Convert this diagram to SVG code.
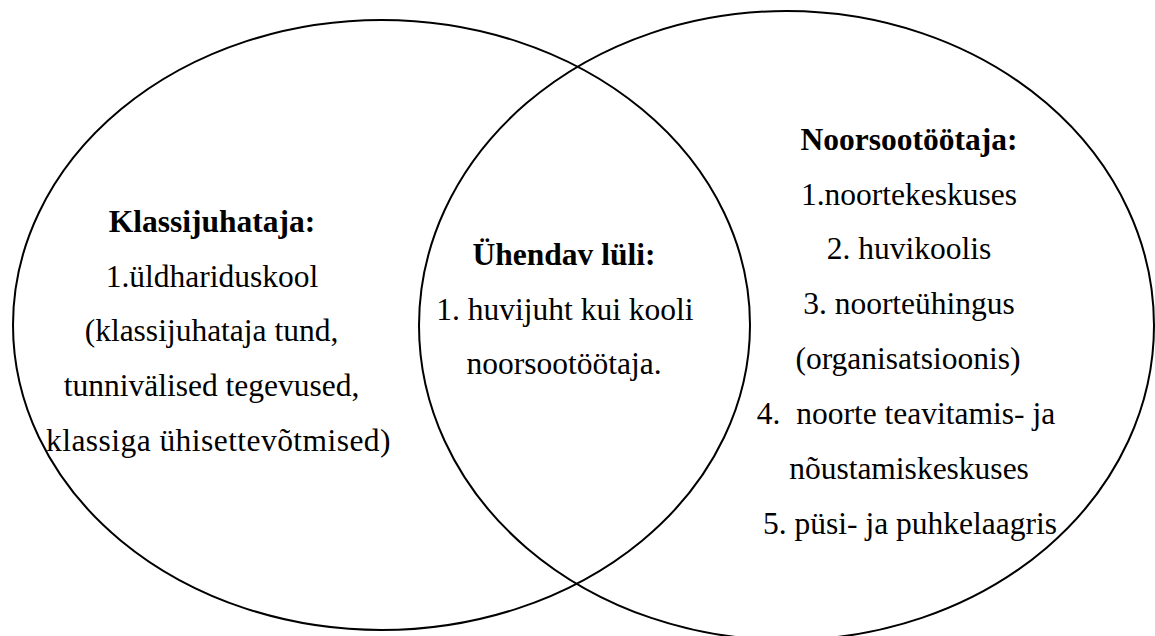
<svg xmlns="http://www.w3.org/2000/svg" width="1155" height="636" viewBox="0 0 1155 636">
<style>
.ell{fill:none;stroke:#000;stroke-width:2}
text{font-family:"Liberation Serif","Times New Roman",serif;font-size:31.5px;fill:#000;text-anchor:middle}
.b{font-weight:bold}
</style>
<rect width="1155" height="636" fill="#fff"/>
<g id="connectors"></g>
<g id="left">
<ellipse class="ell" cx="381.5" cy="325" rx="368.5" ry="305"/>
<text class="b" x="212" y="232">Klassijuhataja:</text>
<text x="212" y="286.5">1.üldhariduskool</text>
<text x="211.5" y="341">(klassijuhataja tund,</text>
<text x="211.5" y="395.5">tunnivälised tegevused,</text>
<text x="218.5" y="451" style="letter-spacing:0.45px">klassiga ühisettevõtmised)</text>
</g>
<g id="right">
<ellipse class="ell" cx="786.5" cy="325.5" rx="367.5" ry="314.5"/>
<text class="b" x="909" y="150">Noorsootöötaja:</text>
<text x="909" y="204.5">1.noortekeskuses</text>
<text x="909" y="259">2. huvikoolis</text>
<text x="909" y="314">3. noorteühingus</text>
<text x="908" y="369">(organisatsioonis)</text>
<text x="906" y="424" xml:space="preserve">4.  noorte teavitamis- ja</text>
<text x="909" y="479">nõustamiskeskuses</text>
<text x="910" y="534">5. püsi- ja puhkelaagris</text>
</g>
<g id="middle">
<text class="b" x="564" y="265">Ühendav lüli:</text>
<text x="565" y="319.5">1. huvijuht kui kooli</text>
<text x="564" y="374">noorsootöötaja.</text>
</g>
</svg>
